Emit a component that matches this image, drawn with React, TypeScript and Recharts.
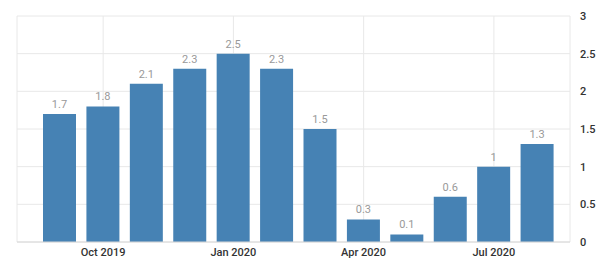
import { Bar, BarChart, CartesianGrid, LabelList, XAxis, YAxis } from "recharts";

const months = [
  "Sep 2019",
  "Oct 2019",
  "Nov 2019",
  "Dec 2019",
  "Jan 2020",
  "Feb 2020",
  "Mar 2020",
  "Apr 2020",
  "May 2020",
  "Jun 2020",
  "Jul 2020",
  "Aug 2020",
];
const values = [1.7, 1.8, 2.1, 2.3, 2.5, 2.3, 1.5, 0.3, 0.1, 0.6, 1, 1.3];
const xTicks = ["Oct 2019", "Jan 2020", "Apr 2020", "Jul 2020"];
const yTicks = [0, 0.5, 1, 1.5, 2, 2.5, 3];

const data = months.map((month, i) => ({ month, value: values[i] }));

export default function App() {
  return (
    <div style={{ position: "absolute", left: 0, top: 0, background: "#fff" }}>
      <BarChart
        width={605}
        height={271}
        data={data}
        margin={{ top: 16, right: 0, bottom: 0, left: 17 }}
        style={{ fontFamily: "Roboto, sans-serif" }}
      >
        <CartesianGrid stroke="#e8e8e8" />
        <XAxis
          dataKey="month"
          ticks={xTicks}
          interval={0}
          height={29}
          padding={{ left: 21, right: 11 }}
          tickLine={false}
          tickSize={0}
          tickMargin={6}
          axisLine={{ stroke: "#d8d8d8" }}
          tick={{ fill: "#333", fontSize: 11, fontWeight: 500 }}
        />
        <YAxis
          orientation="right"
          domain={[0, 3]}
          ticks={yTicks}
          width={35}
          tickLine={false}
          tickSize={0}
          tickMargin={10}
          axisLine={false}
          tick={{ fill: "#333", fontSize: 11, fontWeight: 500, textAnchor: "start" }}
        />
        <Bar dataKey="value" fill="#4682b4" barSize={33} isAnimationActive={false}>
          <LabelList dataKey="value" position="top" offset={6} fill="#999" fontSize={11} />
        </Bar>
      </BarChart>
    </div>
  );
}
